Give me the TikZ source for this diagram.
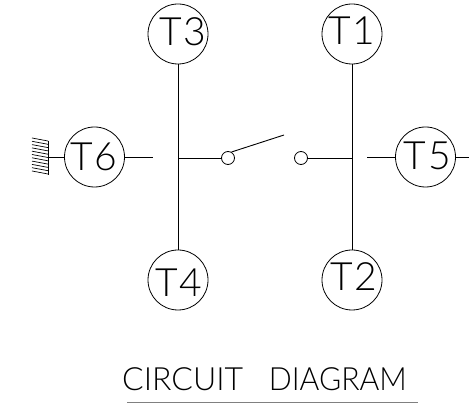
\documentclass[tikz,border=0pt]{standalone}
\usepackage{fontspec}
\setmainfont{Lato Light}
\tikzset{
	termcircle/.style = {draw, circle, inner sep = 0pt, minimum size = 60pt, line width = 0.8pt},
	termtext/.style = {inner sep = 0pt, font = \fontsize{39}{39}\selectfont\addfontfeature{LetterSpace=5}},
	contact/.style = {draw, circle, inner sep = 0pt, minimum size = 13pt, line width = 0.8pt},
	wire/.style = {line width = 0.9pt}
}
\begin{document}
\begin{tikzpicture}[x = 1pt, y = -1pt]
	\useasboundingbox (0,0) rectangle (469,403);
	% terminals
	\node[termcircle] (t3) at (178,34) {};
	\node[termcircle] (t1) at (352,34) {};
	\node[termcircle] (t4) at (178,280) {};
	\node[termcircle] (t2) at (352,280) {};
	\node[termcircle] (t6) at (94.5,157) {};
	\node[termcircle] (t5) at (425.5,157) {};
	\node[termtext] (t3text) at (183,32) {T3};
	\node[termtext] (t1text) at (352,31) {T1};
	\node[termtext] (t4text) at (179,283) {T4};
	\node[termtext] (t2text) at (354,277) {T2};
	\node[termtext] (t6text) at (94,156.5) {T6};
	\node[termtext] (t5text) at (427.5,155.5) {T5};
	% switch
	\node[contact] (swleft) at (228,158) {};
	\node[contact] (swright) at (301,158) {};
	\coordinate (bus3) at (178,158);
	\coordinate (bus1) at (352,158);
	\coordinate (swtip) at (284,135);
	\coordinate (t6end) at (153,157);
	\coordinate (t5end) at (367,157);
	\coordinate (t5out) at (469,157);
	\coordinate (walltop) at (48,141);
	\coordinate (wallbot) at (48,175);
	\coordinate (wallmid) at (48,157);
	\draw[wire] (t3) -- (t4);
	\draw[wire] (t1) -- (t2);
	\draw[wire] (bus3) -- (swleft);
	\draw[wire] (swright) -- (bus1);
	\draw[wire] (swleft.60) -- (swtip);
	\draw[wire] (t6) -- (t6end);
	\draw[wire] (t5end) -- (t5);
	\draw[wire] (t5) -- (t5out);
	\draw[wire] (wallmid) -- (t6);
	% wall
	\draw[wire] (walltop) -- (wallbot);
	\foreach \y in {0,...,10}
		\draw[line width = 0.7pt] (32,138+3.3*\y) -- (48,141+3.3*\y);
	% title
	\node[inner sep = 0pt, font = \fontsize{32}{32}\selectfont] (title) at (264.5,379.5) {CIRCUIT\hspace{0.8em}{\addfontfeature{FakeStretch=0.945}DIAGRAM}};
	\coordinate (rulestart) at (127,402.3);
	\coordinate (ruleend) at (418,402.3);
	\draw[line width = 0.8pt, black!50] (rulestart) -- (ruleend);
\end{tikzpicture}
\end{document}
